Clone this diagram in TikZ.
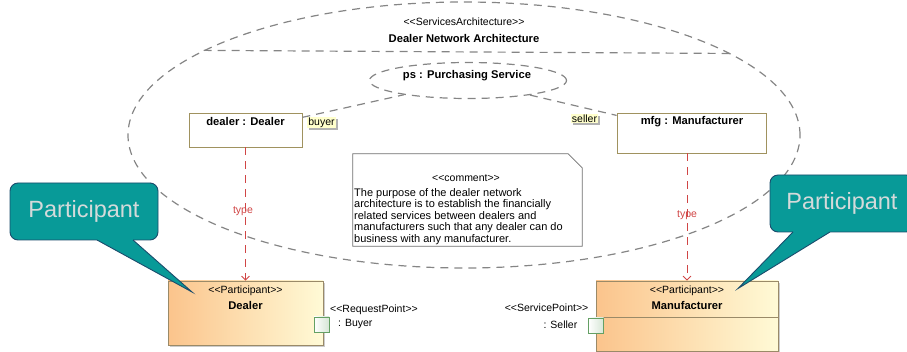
\documentclass[tikz,border=0pt]{standalone}
\usepackage{fontspec}
\setmainfont{Liberation Sans}
% a family without the TeX mapping, so that << and >> stay as typed
\newfontfamily\umlfont{Liberation Sans}
\usetikzlibrary{shapes.geometric,arrows.meta,shadows}

\definecolor{dashgray}{HTML}{858585}
\definecolor{partedge}{HTML}{A0925F}
\definecolor{clsedge}{HTML}{9A8A68}
\definecolor{typered}{HTML}{D04545}
\definecolor{gradL}{HTML}{FBC48C}
\definecolor{gradR}{HTML}{FFFAD6}
\definecolor{calloutfill}{HTML}{089A98}
\definecolor{calloutedge}{HTML}{1B4C6C}
\definecolor{callouttext}{HTML}{D4DADA}
\definecolor{portfill}{HTML}{D6E6D6}
\definecolor{portedge}{HTML}{64A064}
\definecolor{rolefill}{HTML}{FFFFCC}
\definecolor{noteedge}{HTML}{6E6E6E}

\begin{document}
\begin{tikzpicture}[x=1pt,y=-1pt,
  txt/.style={font=\umlfont\fontsize{10.5}{12.5}\selectfont, inner sep=0pt},
  txtb/.style={font=\umlfont\bfseries\fontsize{11.2}{13}\selectfont, inner sep=0pt},
  archline/.style={draw=dashgray, line width=1.2pt, dash pattern=on 8pt off 6pt},
  partbox/.style={rectangle, draw=partedge, fill=white, line width=0.8pt, inner sep=0pt},
  classbox/.style={rectangle, draw=clsedge, line width=0.8pt, left color=gradL, right color=gradR,
    inner sep=0pt, drop shadow={shadow xshift=2pt, shadow yshift=-2pt, fill=black!20, opacity=1}},
  portbox/.style={rectangle, draw=portedge, line width=0.9pt, left color=white, right color=portfill,
    minimum size=15pt, inner sep=0pt},
  rolelabel/.style={font=\umlfont\fontsize{10.5}{12}\selectfont, fill=rolefill, inner xsep=1pt, inner ysep=1pt,
    drop shadow={shadow xshift=2pt, shadow yshift=-2pt, fill=black!30, opacity=1}},
  typeline/.style={draw=typered, line width=0.8pt, dash pattern=on 8pt off 6pt,
    -{Straight Barb[length=4pt,width=8pt]}},
  typelabel/.style={font=\umlfont\fontsize{10.5}{12}\selectfont, text=typered, inner sep=0pt},
  calloutbox/.style={rectangle, rounded corners=8pt, fill=calloutfill, draw=calloutedge, line width=0.9pt,
    font=\umlfont\fontsize{23.5}{26}\selectfont, text=callouttext, inner sep=0pt},
  calloutedge/.style={draw=calloutedge, line width=0.9pt}
]
\useasboundingbox (0,0) rectangle (907,352);
\clip (0,0) rectangle (907,352);

% services architecture: outer ellipse, title and compartment line
\node[archline, ellipse, minimum width=672pt, minimum height=266pt, inner sep=0pt] (arch) at (464,135) {};
\node[txt] (archst) at (464,22) {<<ServicesArchitecture>>};
\node[txtb] (archname) at (464,38.5) {Dealer Network Architecture};
\draw[archline] (arch.162.1) -- (arch.17.9);

% the collaboration use
\node[archline, ellipse, minimum width=197pt, minimum height=36pt, inner sep=0pt] (ps) at (468,80.5) {};
\node[txtb] (psname) at (467,76) {ps : Purchasing Service};

% parts
\node[partbox, minimum width=113pt, minimum height=34pt] (dealer) at (245.5,130) {};
\node[txtb] (dealername) at (245.5,122) {dealer : Dealer};
\node[partbox, minimum width=149pt, minimum height=40pt] (mfg) at (691.5,133) {};
\node[txtb] (mfgname) at (692,122) {mfg : Manufacturer};

% role bindings
\draw[archline] (dealer) -- (ps);
\draw[archline] (ps) -- (mfg);
\node[rolelabel] (buyer) at (321.5,122.5) {buyer};
\node[rolelabel] (seller) at (584.5,118.5) {seller};

% comment
\node[minimum width=229pt, minimum height=92pt, inner sep=0pt] (note) at (467.5,200) {};
\draw[draw=noteedge, fill=white, line width=0.8pt]
  (note.north west) -- ([xshift=-14pt]note.north east) -- ([yshift=-14pt]note.north east)
  -- (note.south east) -- (note.south west) -- cycle;
\node[txt] (notest) at (466,178) {<<comment>>};
\node[txt, font=\umlfont\fontsize{11}{11.6}\selectfont, align=left, anchor=north west] (notetext) at (354,188)
  {The purpose of the dealer network\\
   architecture is to establish the financially\\
   related services between dealers and\\
   manufacturers such that any dealer can do\\
   business with any manufacturer.};

% participants
\node[classbox, minimum width=155pt, minimum height=64pt] (dealerP) at (245.5,313) {};
\node[txt] (dealerPst) at (245.5,290.5) {<<Participant>>};
\node[txtb] (dealerPname) at (245.5,305) {Dealer};
\node[classbox, minimum width=182pt, minimum height=70pt] (mfgP) at (687,316) {};
\node[txt] (mfgPst) at (687,290.5) {<<Participant>>};
\node[txtb] (mfgPname) at (687,305) {Manufacturer};
\draw[draw=clsedge, line width=0.8pt] (mfgP.west |- 0,317) -- (mfgP.east |- 0,317);

% ports
\node[portbox] (dport) at (321.5,324.5) {};
\node[txt, anchor=west] (dportst) at (330,309.5) {<<RequestPoint>>};
\node[txt, anchor=west] (dportname) at (338,323.5) {: Buyer};
\node[portbox] (mport) at (596,325.5) {};
\node[txt, anchor=east] (mportst) at (588.5,308) {<<ServicePoint>>};
\node[txt, anchor=east] (mportname) at (577.5,325) {: Seller};

% typing dependencies
\draw[typeline] (dealer.south) -- (dealerP.north);
\node[typelabel] (dealertype) at (243,211) {type};
\draw[typeline] (mfgP.north |- mfg.south) -- (mfgP.north);
\node[typelabel] (mfgtype) at (687,215.5) {type};

% callouts
\node[calloutbox, minimum width=148pt, minimum height=57pt] (callL) at (84,211.5) {Participant};
\coordinate (tipL) at (192,292);
\fill[calloutfill] (97,236) -- (133,236) -- (133,240) -- (tipL) -- (97,240) -- cycle;
\draw[calloutedge] (97,240) -- (tipL) -- (133,240);

\node[calloutbox, minimum width=144pt, minimum height=57pt] (callR) at (842,203.5) {Participant};
\coordinate (tipR) at (738,288.5);
\fill[calloutfill] (793,228) -- (830,228) -- (830,232) -- (tipR) -- (793,232) -- cycle;
\draw[calloutedge] (793,232) -- (tipR) -- (830,232);
\end{tikzpicture}
\end{document}
